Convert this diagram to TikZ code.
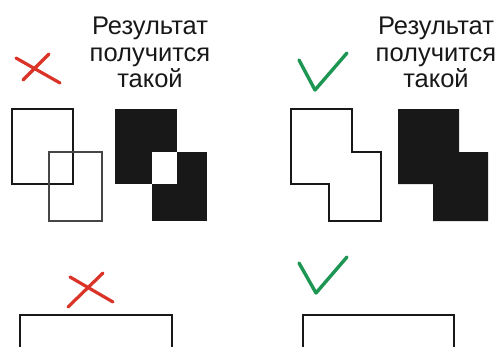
\documentclass[tikz,border=0pt]{standalone}
\usepackage{fontspec}
\setmainfont{Liberation Sans}
\usetikzlibrary{positioning}
\definecolor{xred}{RGB}{218,52,40}
\definecolor{vgreen}{RGB}{28,150,82}
\definecolor{ink}{RGB}{24,24,24}

\begin{document}
\begin{tikzpicture}[x=1pt, y=-1pt, line join=miter, cross/.style = {draw=xred, line width=3.2pt, line cap=round}, tick/.style = {draw=vgreen, line width=3.4pt, line cap=round, line join=round}, frame/.style = {draw=ink, line width=2pt}, result/.style = {align=center, inner sep=0pt, anchor=north, text=ink, font=\fontsize{25.5}{26.5}\selectfont}]
\clip (0,0) rectangle (503,346);
\node[result] (res1) at (150,16.8) {Результат\\получится\\такой};
\node[result] (res2) at (436,16.8) {Результат\\получится\\такой};
\draw[cross] (16,58) -- (60,83);
\draw[cross] (49,54) -- (23,80);
\draw[tick] (299,60) -- (315,90) -- (347,53);
\draw[frame] (12,109) rectangle (73,184);
\draw[frame, line width=1.6pt, draw=ink!80] (49,152) rectangle (102,221);
\fill[ink] (115,109) rectangle (177,184);
\fill[ink] (152,152) rectangle (207,221);
\fill[white] (152,152) rectangle (177,184);
\draw[frame] (291,109) -- (352,109) -- (352,152) -- (381,152) -- (381,221) -- (329,221) -- (329,184) -- (291,184) -- cycle;
\fill[ink] (398,109) -- (459,109) -- (459,152) -- (488,152) -- (488,221) -- (433,221) -- (433,184) -- (398,184) -- cycle;
\draw[cross] (70,277) -- (113,302);
\draw[cross] (103,273) -- (68,307);
\draw[tick] (299,263) -- (316,293) -- (347,257);
\draw[frame] (20,350) -- (20,315) -- (172,315) -- (172,350);
\draw[frame] (303,350) -- (303,315) -- (454,315) -- (454,350);
\end{tikzpicture}
\end{document}
